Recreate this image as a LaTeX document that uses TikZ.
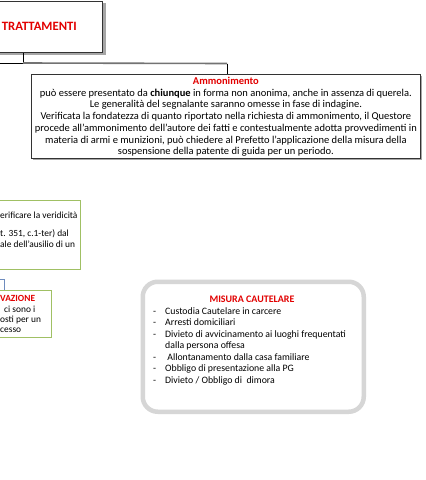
\documentclass[tikz,border=0pt]{standalone}
\usepackage{fontspec}
\setmainfont{Carlito}
\definecolor{tred}{RGB}{226,0,0}
\definecolor{boxgreen}{RGB}{160,192,100}
\definecolor{bluegray}{RGB}{110,140,190}
\definecolor{roundgray}{RGB}{214,214,214}
\tikzset{
  plainbox/.style={draw=black!80, fill=white, line width=0.8pt, inner sep=0pt},
  greenbox/.style={draw=boxgreen, fill=white, line width=0.8pt, inner sep=0pt},
  titletxt/.style={text=tred, font=\bfseries\fontsize{9.4}{11.2}\selectfont, inner sep=0pt},
  bodytxt/.style={font=\fontsize{9.4}{11.2}\selectfont, inner sep=0pt},
  shadowbox/.style={fill=black!35, draw=none}
}
\begin{document}
\begin{tikzpicture}[x=1pt,y=-1pt]
\useasboundingbox (0,0) rectangle (426,480);
\clip (0,0) rectangle (426,480);
\fill[white] (0,0) rectangle (426,480);

% TRATTAMENTI box
\fill[shadowbox] (-40,3) rectangle (105.5,54.5);
\node[plainbox, anchor=north east, minimum width=143pt, minimum height=51pt] (tratt) at (103,1) {};
\node[anchor=east, text=tred, font=\bfseries\fontsize{12.7}{15}\selectfont, inner sep=0pt] (trattlbl) at (77,26.5) {TRATTAMENTI};

% Ammonimento box
\fill[shadowbox] (33,76) rectangle (422,160);
\node[plainbox, anchor=north west, minimum width=389pt, minimum height=84pt] (ammon) at (31,74) {};
\node[bodytxt, font=\fontsize{10.5}{11.7}\selectfont, align=center, anchor=center] (ammontxt) at ([yshift=-0.5pt]ammon.center) {%
  {\color{tred}\bfseries Ammonimento}\\
  può essere presentato da \textbf{chiunque} in forma non anonima, anche in assenza di querela.\\
  Le generalità del segnalante saranno omesse in fase di indagine.\\
  Verificata la fondatezza di quanto riportato nella richiesta di ammonimento, il Questore\\
  procede all’ammonimento dell’autore dei fatti e contestualmente adotta provvedimenti in\\
  materia di armi e munizioni, può chiedere al Prefetto l’applicazione della misura della\\
  sospensione della patente di guida per un periodo.};

% connectors at top
\coordinate (c0) at (-5,63);
\coordinate (c1) at (23,63);
\coordinate (c2) at (227,63.5);
\draw[black, line width=0.8pt] (tratt.south -| c1) -- (c1) -- (c0);
\draw[black!55, line width=1.6pt] (c1) -- (c2);
\draw[black, line width=0.8pt] (c2) -- (ammon.north -| c2);

% green box
\node[greenbox, anchor=north east, minimum width=200pt, minimum height=69pt] (green) at (81,200) {};
\node[bodytxt, anchor=base west] (g1) at (0,218) {erificare la veridicità};
\node[bodytxt, anchor=base west] (g2) at (0,236) {t. 351, c.1-ter) dal};
\node[bodytxt, anchor=base west] (g3) at (0,247.5) {ale dell'ausilio di un};

% small blue connector
\coordinate (b0) at (-3,279);
\coordinate (b1) at (4,279);

% VAZIONE box
\node[greenbox, anchor=north east, minimum width=100pt, minimum height=47pt] (vaz) at (52,290) {};
\draw[bluegray, line width=0.9pt] (b0) -- (b1) -- (b1 |- vaz.north);
\node[titletxt, anchor=base west] (v1) at (0,301.5) {VAZIONE};
\node[bodytxt, anchor=base west] (v2) at (4,312) {ci sono i};
\node[bodytxt, anchor=base west] (v3) at (0,322) {osti per un};
\node[bodytxt, anchor=base west] (v4) at (0,332) {cesso};

% MISURA CAUTELARE rounded box
\node[draw=roundgray, fill=white, line width=4.5pt, rounded corners=15pt, minimum width=221pt, minimum height=130pt, anchor=north west, inner sep=0pt] (misura) at (140.5,279.5) {};
\node[titletxt, font=\bfseries\fontsize{10}{12}\selectfont] (mtitle) at (252,299) {MISURA CAUTELARE};
\node[bodytxt, anchor=north west, font=\fontsize{9.8}{11.5}\selectfont] (mlist) at (153,306) {%
  \begin{tabular}{@{}l@{\hspace{9pt}}l@{}}
  - & Custodia Cautelare in carcere\\
  - & Arresti domiciliari\\
  - & Divieto di avvicinamento ai luoghi frequentati\\
    & dalla persona offesa\\
  - & \ Allontanamento dalla casa familiare\\
  - & Obbligo di presentazione alla PG\\
  - & Divieto / Obbligo di\ \ dimora
  \end{tabular}};
\end{tikzpicture}
\end{document}
